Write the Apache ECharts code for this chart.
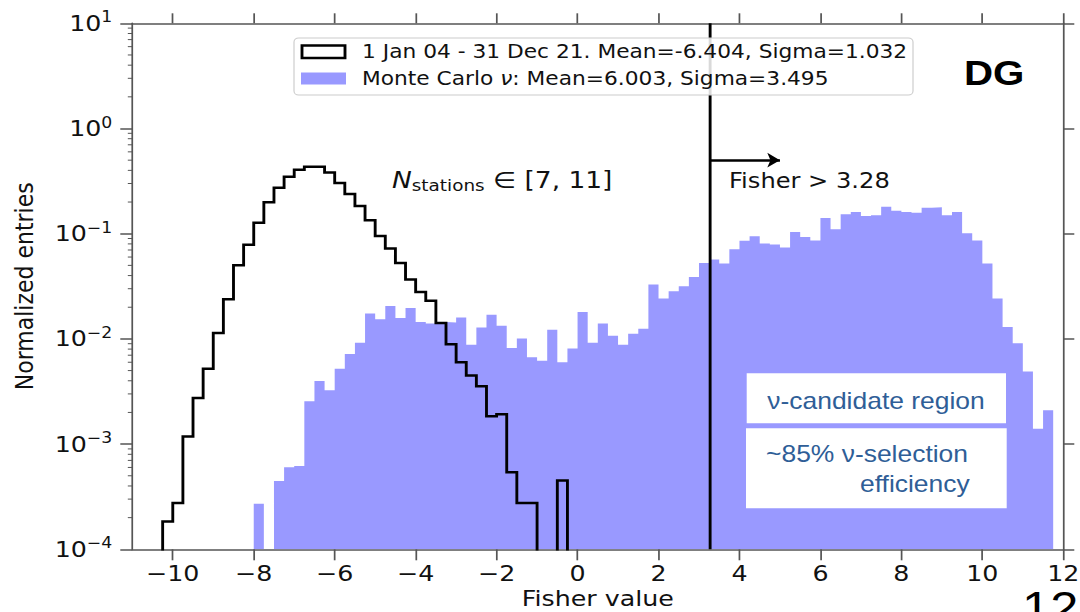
<!DOCTYPE html>
<html>
<head>
<meta charset="utf-8">
<script src="https://cdn.jsdelivr.net/npm/echarts@6/dist/echarts.min.js"></script>
<style>
  html, body { margin: 0; padding: 0; background: #fff; overflow: hidden; }
  #wrap { width: 1080px; height: 612px; overflow: hidden; position: relative; }
  #chart { position: absolute; left: 0; top: 0; height: 612px; transform-origin: 0 0; }
</style>
</head>
<body>
<div id="wrap"><div id="chart"></div></div>
<script>
// ---- histogram contents (normalized entries per 0.25-wide Fisher bin) ----
const binWidth = 0.25;

// Data, 1 Jan 04 - 31 Dec 21, bins starting at -10.25
const dataStart = -10.25;
const dataEntries = [
  1.84e-4, 2.75e-4, 1.18e-3, 2.74e-3, 5.2e-3, 0.0114, 0.0238, 0.050, 0.0785, 0.127,
  0.199, 0.273, 0.348, 0.405, 0.432, 0.432, 0.382, 0.304, 0.238, 0.183,
  0.134, 0.0953, 0.0723, 0.0527, 0.0366, 0.0279, 0.0230, 0.0142, 0.0089, 0.0060,
  0.0045, 0.00354, 0.00184, 0.00192, 0.00054, 0.000275, 0.000275, 0, 0, 0.000452
];

// Monte Carlo neutrinos, bins starting at -8.0
const mcStart = -8.0;
const mcEntries = [
  2.71e-4, 0, 4.45e-4, 6.04e-4, 6.2e-4, 2.55e-3, 3.98e-3, 3.25e-3, 5.2e-3, 7.2e-3,
  9.2e-3, 0.0174, 0.0154, 0.0206, 0.0158, 0.0197, 0.0145, 0.0140, 0.0145, 0.0143,
  0.0160, 0.0088, 0.0128, 0.0170, 0.0133, 0.0082, 0.0101, 0.0067, 0.0062, 0.0122,
  0.0060, 0.0081, 0.0180, 0.0092, 0.0140, 0.0107, 0.0088, 0.0112, 0.0125, 0.0329,
  0.0242, 0.0284, 0.0316, 0.0388, 0.0527, 0.0568, 0.052, 0.0713, 0.0855, 0.0946,
  0.0805, 0.0788, 0.0739, 0.104, 0.093, 0.086, 0.141, 0.110, 0.153, 0.161,
  0.147, 0.150, 0.180, 0.165, 0.161, 0.158, 0.176, 0.178, 0.150, 0.161,
  0.101, 0.0860, 0.052, 0.0242, 0.0130, 0.0091, 0.0049, 0.0014, 0.0021
];

// selection cut and its arrow
const cutValue = 3.28;
const arrowEnd = 5.0;
const arrowLevel = 0.5;

// axes
const xMin = -11, xMax = 12;
const yMin = 1e-4, yMax = 10;
const xTicks = [-10, -8, -6, -4, -2, 0, 2, 4, 6, 8, 10, 12];
const yTicks = [1e-4, 1e-3, 1e-2, 1e-1, 1, 10];
const yMinorTicks = [];
[-4, -3, -2, -1, 0].forEach(function (d) {
  for (let k = 2; k <= 9; k++) yMinorTicks.push(k * Math.pow(10, d));
});

// ---- drawing ----
const S = 1.15;                 // horizontal stretch of the whole figure
const W = 1080 / S;
const px = function (x) { return x / S; };

const mcColor = '#9999ff';
const axisColor = '#555555';
const ink = '#111111';
const mplFont = 'DejaVu Sans';
const slideFont = 'Liberation Sans';
const noteColor = '#2f5e97';

function minus(v) { return String(v).replace('-', '\u2212'); }

// step outline of a histogram; empty bins drop to `floor`
function stepOutline(start, values, floor) {
  const pts = [[start, floor]];
  values.forEach(function (v, i) {
    const x0 = start + i * binWidth, x1 = x0 + binWidth;
    const y = v > 0 ? v : floor;
    pts.push([x0, y], [x1, y]);
  });
  pts.push([start + values.length * binWidth, floor]);
  return pts;
}

const el = document.getElementById('chart');
el.style.width = W + 'px';
el.style.transform = 'scaleX(' + S + ')';
const chart = echarts.init(el, null, { renderer: 'svg', width: W, height: 612 });

const axisLineStyle = { color: axisColor, width: 1.5 };

chart.setOption({
  animation: false,
  backgroundColor: '#ffffff',
  grid: {
    left: px(132.3), right: px(1080 - 1063.3), top: 23.3, bottom: 612 - 549.3,
    containLabel: false, outerBoundsMode: 'none'
  },
  xAxis: [{
    type: 'value', min: xMin, max: xMax, position: 'bottom',
    axisLine: { show: true, onZero: false, lineStyle: axisLineStyle },
    axisTick: { show: true, length: 11, lineStyle: axisLineStyle, customValues: xTicks },
    axisLabel: {
      customValues: xTicks, formatter: function (v) { return minus(v); },
      fontSize: 22, lineHeight: 22, fontFamily: mplFont, color: ink, margin: 13
    },
    splitLine: { show: false },
    name: 'Fisher value', nameLocation: 'middle', nameGap: 37, nameMoveOverlap: false,
    nameTextStyle: { fontSize: 22, fontFamily: mplFont, color: ink, lineHeight: 24 }
  }, {
    type: 'value', min: xMin, max: xMax, position: 'top',
    axisLine: { show: true, onZero: false, lineStyle: axisLineStyle },
    axisTick: { show: true, length: 10, lineStyle: axisLineStyle, customValues: xTicks },
    axisLabel: { show: false },
    splitLine: { show: false }
  }],
  yAxis: [{
    type: 'log', logBase: 10, min: yMin, max: yMax, position: 'left',
    axisLine: { show: true, onZero: false, lineStyle: axisLineStyle },
    axisTick: { show: true, length: px(12), lineStyle: axisLineStyle, customValues: yTicks },
    axisLabel: {
      customValues: yTicks,
      formatter: function (v) {
        const e = Math.round(Math.log10(v));
        return '{b|10}{e|' + minus(e) + '}';
      },
      margin: px(20),
      rich: {
        b: { fontSize: 22, fontFamily: mplFont, color: ink },
        e: { fontSize: 15, fontFamily: mplFont, color: ink, padding: [0, 0, 12, 0] }
      }
    },
    splitLine: { show: false },
    name: 'Normalized entries', nameLocation: 'middle', nameRotate: 90, nameGap: px(95),
    nameTextStyle: { fontSize: 22, fontFamily: mplFont, color: ink }
  }, {
    type: 'log', logBase: 10, min: yMin, max: yMax, position: 'right',
    axisLine: { show: true, onZero: false, lineStyle: axisLineStyle },
    axisTick: { show: true, length: px(11), lineStyle: axisLineStyle, customValues: yTicks },
    axisLabel: { show: false },
    splitLine: { show: false }
  }],
  series: [{
    name: 'Monte Carlo',
    type: 'line',
    data: stepOutline(mcStart, mcEntries, yMin),
    showSymbol: false, symbol: 'none', silent: true, z: 1,
    lineStyle: { width: 0, opacity: 0 },
    areaStyle: { color: mcColor, opacity: 1, origin: 'start' }
  }, {
    name: 'Data',
    type: 'line',
    // empty bins fall below the axis floor so only the rising/falling edges show
    data: stepOutline(dataStart, dataEntries, yMin / 10),
    showSymbol: false, symbol: 'none', silent: true, z: 3, clip: true,
    lineStyle: { color: '#000', width: 2.5, join: 'miter' },
    markLine: {
      silent: true, symbol: ['none', 'none'], label: { show: false },
      lineStyle: { color: '#000', width: 2.5, type: 'solid' },
      emphasis: { disabled: true },
      data: [
        { xAxis: cutValue },
        [
          { coord: [cutValue, arrowLevel], symbol: 'none' },
          { coord: [arrowEnd, arrowLevel], symbol: 'arrow', symbolSize: [11, 11] }
        ]
      ]
    }
  }, {
    name: 'minor ticks',
    type: 'custom',
    coordinateSystem: 'cartesian2d',
    silent: true, clip: false, z: 5,
    data: yMinorTicks.map(function (v) { return [xMin, v]; }),
    renderItem: function (params, api) {
      const p = api.coord([api.value(0), api.value(1)]);
      return {
        type: 'line',
        shape: { x1: p[0] - px(4.5), y1: p[1], x2: p[0], y2: p[1] },
        style: { stroke: axisColor, lineWidth: 1 }
      };
    }
  }],
  graphic: [
    // legend
    { type: 'rect', z: 10, shape: { x: px(294), y: 38, width: px(913 - 294), height: 57, r: 4 },
      style: { fill: 'rgba(255,255,255,0.85)', stroke: '#cccccc', lineWidth: 1 } },
    { type: 'rect', z: 11, shape: { x: px(302), y: 45.5, width: px(43), height: 12.5 },
      style: { fill: '#ffffff', stroke: '#000', lineWidth: 2.5 } },
    { type: 'rect', z: 11, shape: { x: px(301), y: 72.5, width: px(45), height: 12 },
      style: { fill: mcColor } },
    { type: 'text', z: 11, x: px(362), y: 51.7,
      style: { text: '1 Jan 04 - 31 Dec 21. Mean=-6.404, Sigma=1.032', fontSize: 18.9,
        fontFamily: mplFont, fill: ink, verticalAlign: 'middle' } },
    { type: 'text', z: 11, x: px(362), y: 78.8,
      style: { text: 'Monte Carlo {i|\u03bd}: Mean=6.003, Sigma=3.495', fontSize: 18.9,
        fontFamily: mplFont, fill: ink, verticalAlign: 'middle',
        rich: { i: { fontSize: 18.9, fontFamily: mplFont, fontStyle: 'italic', fill: ink } } } },
    // station multiplicity
    { type: 'text', z: 11, x: px(392), y: 180,
      style: { text: '{n|N}{s|stations}{t| \u2208 [7, 11]}', verticalAlign: 'middle', fill: ink,
        rich: {
          n: { fontSize: 23, fontFamily: mplFont, fontStyle: 'italic', fill: ink },
          s: { fontSize: 16, fontFamily: mplFont, fill: ink, padding: [11, 0, 0, 0] },
          t: { fontSize: 23, fontFamily: mplFont, fill: ink }
        } } },
    // cut label
    { type: 'text', z: 11, x: px(729), y: 181,
      style: { text: 'Fisher > 3.28', fontSize: 21, fontFamily: mplFont, fill: ink, verticalAlign: 'middle' } },
    // detector tag
    { type: 'text', z: 11, x: px(964), y: 73.4,
      style: { text: 'DG', fontSize: 35, fontWeight: 'bold', fontFamily: slideFont, fill: '#000', verticalAlign: 'middle' } },
    // candidate region notes
    { type: 'rect', z: 10, shape: { x: px(746.7), y: 373.3, width: px(1006 - 746.7), height: 50 },
      style: { fill: '#ffffff' } },
    { type: 'rect', z: 10, shape: { x: px(746), y: 428.3, width: px(1006.7 - 746), height: 80 },
      style: { fill: '#ffffff' } },
    { type: 'text', z: 11, x: px(876), y: 401,
      style: { text: '\u03bd-candidate region', fontSize: 23, fontFamily: slideFont, fill: noteColor,
        align: 'center', verticalAlign: 'middle' } },
    { type: 'text', z: 11, x: px(766), y: 453.7,
      style: { text: '~85% \u03bd-selection', fontSize: 23, fontFamily: slideFont, fill: noteColor,
        verticalAlign: 'middle' } },
    { type: 'text', z: 11, x: px(860), y: 484,
      style: { text: 'efficiency', fontSize: 23, fontFamily: slideFont, fill: noteColor,
        verticalAlign: 'middle' } },
    // page number
    { type: 'text', z: 11, x: px(1022), y: 608,
      style: { text: '12', fontSize: 44, fontFamily: slideFont, fill: '#000', verticalAlign: 'middle' } }
  ]
});
</script>
</body>
</html>
